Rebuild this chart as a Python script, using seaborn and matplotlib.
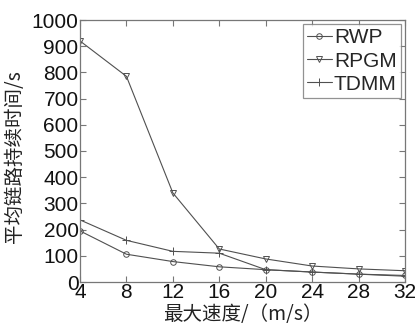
import matplotlib
matplotlib.use("Agg")
import matplotlib.pyplot as plt
import seaborn as sns
import pandas as pd

speeds = [4, 8, 12, 16, 20, 24, 28, 32]
rwp = [195, 106, 78, 58, 47, 38, 30, 25]
rpgm = [920, 785, 340, 126, 88, 61, 50, 43]
tdmm = [237, 159, 117, 110, 47, 38, 30, 22]
series_names = ["RWP", "RPGM", "TDMM"]
xticks = [4, 8, 12, 16, 20, 24, 28, 32]
yticks = [0, 100, 200, 300, 400, 500, 600, 700, 800, 900, 1000]

sns.set_theme(style="ticks")
plt.rcParams['font.family'] = ['Liberation Sans', 'Noto Sans CJK SC', 'DejaVu Sans']

fig = plt.figure(figsize=(4.15, 3.3), dpi=100)
ax = fig.add_axes([80/415, 48/330, 325/415, 262/330])

line_color = "#505050"
markers = {"RWP": "o", "RPGM": "v", "TDMM": "+"}
for name, vals in zip(series_names, [rwp, rpgm, tdmm]):
    d = pd.DataFrame({"speed": speeds, "value": vals})
    mk = markers[name]
    kw = dict(markerfacecolor="none", markeredgecolor=line_color) if mk != "+" else dict(markeredgecolor=line_color)
    sns.lineplot(data=d, x="speed", y="value", ax=ax, color=line_color, linewidth=0.8,
                 marker=mk, markersize=4 if mk != "+" else 6, markeredgewidth=0.7,
                 label=name, **kw)

ax.set_xlim(4, 32)
ax.set_ylim(0, 1000)
ax.set_xticks(xticks)
ax.set_yticks(yticks)
ax.tick_params(direction="in", labelsize=15, length=4, width=0.8, colors="#777777",
               labelcolor="#111111", top=True, right=True, pad=1)
for s in ax.spines.values():
    s.set_color("#777777")
    s.set_linewidth(0.9)

ax.set_xlabel("最大速度/（m/s）", fontsize=14, color="#222222",
              family=['Noto Sans CJK SC', 'DejaVu Sans'], labelpad=1)
ax.set_ylabel("平均链路持续时间/s", fontsize=14, color="#222222",
              family=['Noto Sans CJK SC', 'DejaVu Sans'], labelpad=1)
ax.yaxis.set_label_coords(-0.17, 0.48)

leg = ax.legend(loc="upper right", fontsize=15, frameon=True, fancybox=False,
                handlelength=1.2, handletextpad=0.1, borderpad=0.2, labelspacing=0.2,
                borderaxespad=0.2)
leg.get_frame().set_edgecolor("#777777")
leg.get_frame().set_linewidth(0.9)

fig.savefig("out.png", dpi=100)
